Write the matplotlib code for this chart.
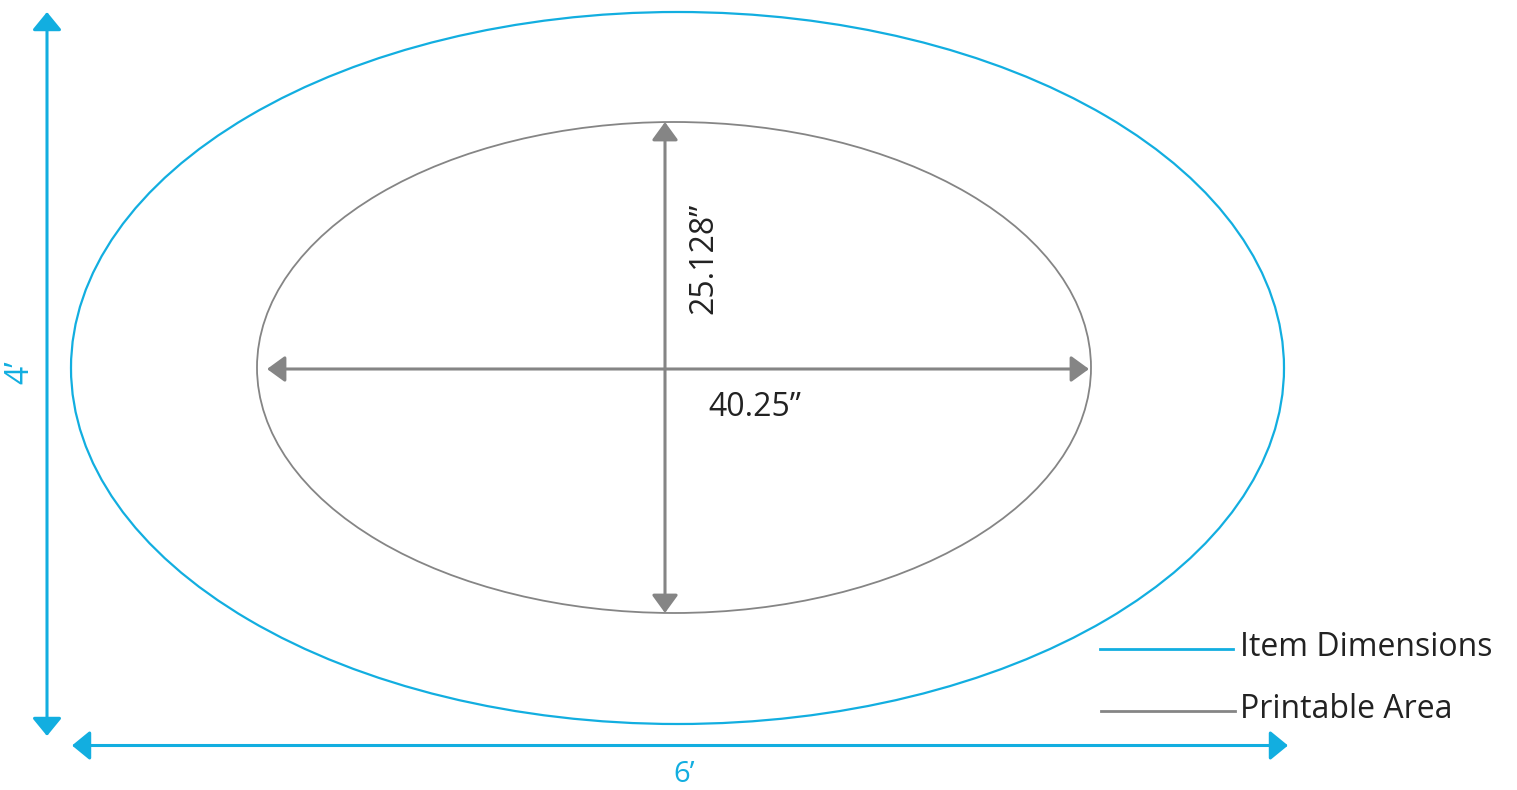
import matplotlib.pyplot as plt
from matplotlib.patches import Ellipse, FancyArrowPatch

# labels and the drawn sizes of the two outlines (canvas pixels)
labels = ["Item Dimensions", "Printable Area"]
outer_dims = ["6\u2019", "4\u2019"]
inner_dims = ["40.25\u201d", "25.128\u201d"]
centers_x = [677.5, 674]
centers_y = [368, 367.5]
widths = [1213, 834]
heights = [712, 491]

blue = '#12aee0'
gray = '#858585'
plt.rcParams['font.family'] = ['Open Sans', 'DejaVu Sans']

fig = plt.figure(figsize=(15.17, 7.9), dpi=100)
ax = fig.add_axes([0, 0, 1, 1])
ax.set_xlim(0, 1517)
ax.set_ylim(790, 0)
ax.axis('off')

colors = [blue, gray]
lws = [1.6, 1.3]
for cx, cy, w, h, c, lw in zip(centers_x, centers_y, widths, heights, colors, lws):
    ax.add_patch(Ellipse((cx, cy), w, h, fill=False, ec=c, lw=lw))

def arrow(p0, p1, c, lw, head):
    ax.add_patch(FancyArrowPatch(p0, p1, arrowstyle=f'<|-|>,head_length={head[0]},head_width={head[1]}',
                                 color=c, lw=lw, shrinkA=0, shrinkB=0, mutation_scale=1))

# outer dimension arrows
ox0 = centers_x[0] - widths[0] / 2
ox1 = centers_x[0] + widths[0] / 2
oy0 = centers_y[0] - heights[0] / 2
oy1 = centers_y[0] + heights[0] / 2
arrow((47, oy0), (47, oy1 + 12), blue, 2.2, (11, 9))
arrow((ox0 + 1, 745.5), (ox1 + 4, 745.5), blue, 2.2, (11, 9))
ax.text(684, 789, outer_dims[0], color=blue, fontsize=21, ha='center', va='bottom')
ax.text(20, 372, outer_dims[1], color=blue, fontsize=23, ha='center', va='center', rotation=90)

# inner dimension arrows
ix0 = centers_x[1] - widths[1] / 2
ix1 = centers_x[1] + widths[1] / 2
iy0 = centers_y[1] - heights[1] / 2
iy1 = centers_y[1] + heights[1] / 2
arrow((665, iy0), (665, iy1), gray, 2.2, (11, 8))
arrow((ix0 + 10, 369), (ix1 - 2, 369), gray, 2.2, (11, 8))
ax.text(755, 407, inner_dims[0], color='#222222', fontsize=23, ha='center', va='center')
ax.text(704, 258, inner_dims[1], color='#222222', fontsize=23, ha='center', va='center', rotation=90)

# legend
ax.plot([1100, 1233], [649, 649], color=blue, lw=2)
ax.plot([1101, 1235], [711, 711], color=gray, lw=2)
ax.text(1240, 647, labels[0], color='#222222', fontsize=23, ha='left', va='center')
ax.text(1240, 709, labels[1], color='#222222', fontsize=23, ha='left', va='center')

fig.savefig('out.png', dpi=100)
